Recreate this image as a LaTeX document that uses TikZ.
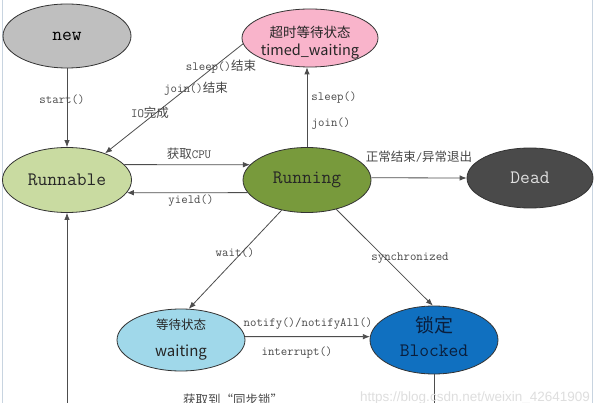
\documentclass[tikz,border=0pt]{standalone}
\usepackage{fontspec}
\newfontfamily\cjk{Noto Sans CJK SC}
\newfontfamily\wmfont{Liberation Sans}
\usetikzlibrary{shapes.geometric,arrows.meta}
\definecolor{newC}{HTML}{BFBFBF}
\definecolor{twC}{HTML}{F9B4CB}
\definecolor{runnableC}{HTML}{C9DBA1}
\definecolor{runningC}{HTML}{789A3C}
\definecolor{deadC}{HTML}{4A4A4A}
\definecolor{waitC}{HTML}{A0D8EA}
\definecolor{blockC}{HTML}{1070C0}
\definecolor{navyC}{HTML}{0A1E3C}
\definecolor{lineC}{HTML}{4D4D4D}
\definecolor{labelC}{HTML}{484848}
\definecolor{frameC}{HTML}{C8D4E0}
\begin{document}
\begin{tikzpicture}[x=1pt,y=-1pt,
  state/.style={ellipse,draw=black!80,line width=0.8pt,inner sep=0pt,
    font=\ttfamily\fontsize{19}{22}\selectfont},
  conn/.style={draw=lineC,line width=0.8pt,-{Latex[length=7pt,width=5.5pt]}},
  lbl/.style={text=labelC,inner sep=0pt,font=\ttfamily\fontsize{12.5}{14}\selectfont},
  intxt/.style={inner sep=0pt,text=black!85},
]
\fill[white] (0,0) rectangle (599,403);
\useasboundingbox (0,0) rectangle (599,403);
\clip (0,0) rectangle (599,403);
\draw[frameC,line width=1pt] (2,0) -- (2,403);
\draw[frameC,line width=1pt] (592,0) -- (592,403);

% states
\node[state,fill=newC,minimum width=128pt,minimum height=64pt] (new) at (67,36) {new};
\node[state,fill=twC,minimum width=136pt,minimum height=58pt] (tw) at (310,38) {};
\node[intxt,font=\cjk\fontsize{13.5}{15}\selectfont] (twA) at (310,32) {超时等待状态};
\node[intxt,font=\cjk\fontsize{14.5}{16}\selectfont] (twB) at (310,52) {timed\_waiting};
\node[state,fill=runnableC,minimum width=129pt,minimum height=65pt,text=black!85] (Rn) at (67,180) {Runnable};
\node[state,fill=runningC,minimum width=128pt,minimum height=65pt,text=black!85] (Ru) at (307,180) {Running};
\node[state,fill=deadC,minimum width=126pt,minimum height=60pt,text=black!12] (De) at (530,178) {Dead};
\node[state,fill=waitC,minimum width=128pt,minimum height=62pt] (wa) at (181,340) {};
\node[intxt,font=\cjk\fontsize{12.5}{14}\selectfont] (waA) at (181,325) {等待状态};
\node[intxt,font=\cjk\fontsize{15}{17}\selectfont] (waB) at (181,353) {waiting};
\node[state,fill=blockC,minimum width=128pt,minimum height=68pt] (Bl) at (434,340) {};
\node[intxt,text=navyC,font=\cjk\fontsize{19}{22}\selectfont] (BlA) at (434,325) {锁定};
\node[intxt,text=navyC,font=\ttfamily\fontsize{19}{22}\selectfont] (BlB) at (434,351) {Blocked};

% connectors
\draw[conn] (new.south) -- (Rn.north);
\draw[conn] (Rn.15) -- (Ru.165);
\draw[conn] (Ru.192) -- (Rn.-12);
\draw[conn] (tw.185) -- (Rn.35);
\draw[conn] (Ru.north) -- (Ru.north |- tw.south);
\draw[conn] (Ru.2) -- (De.west);
\draw[conn] (Ru.230) -- (wa.76);
\draw[conn] (Ru.-45) -- (Bl.92);
\draw[conn] (wa.3) -- (Bl.177);
\draw[conn] (Bl.south) -- ++(0,46) -| (Rn.south);

% labels
\node[lbl] (lStart) at (62,100) {start()};
\node[lbl] (lSleepEnd) at (221,67) {sleep(){\cjk 结束}};
\node[lbl] (lJoinEnd) at (196,89) {join(){\cjk 结束}};
\node[lbl] (lIO) at (150,113) {IO{\cjk 完成}};
\node[lbl] (lCPU) at (189,154) {{\cjk 获取}CPU};
\node[lbl] (lYield) at (191,201) {yield()};
\node[lbl] (lSleep) at (334,98) {sleep()};
\node[lbl] (lJoin) at (331,124) {join()};
\node[lbl] (lDead) at (419,157) {{\cjk 正常结束}/{\cjk 异常退出}};
\node[lbl] (lWait) at (235,253) {wait()};
\node[lbl] (lSync) at (410,258) {synchronized};
\node[lbl] (lNotify) at (308,324) {notify()/notifyAll()};
\node[lbl] (lInt) at (297,353) {interrupt()};
\node[lbl] (lLock) at (233,399.5) {\cjk 获取到“同步锁”};
\node[inner sep=0pt,anchor=west,text=black!13,font=\wmfont\fontsize{13.5}{15}\selectfont] (wm) at (360,398) {https://blog.csdn.net/weixin\_42641909};
\end{tikzpicture}
\end{document}
